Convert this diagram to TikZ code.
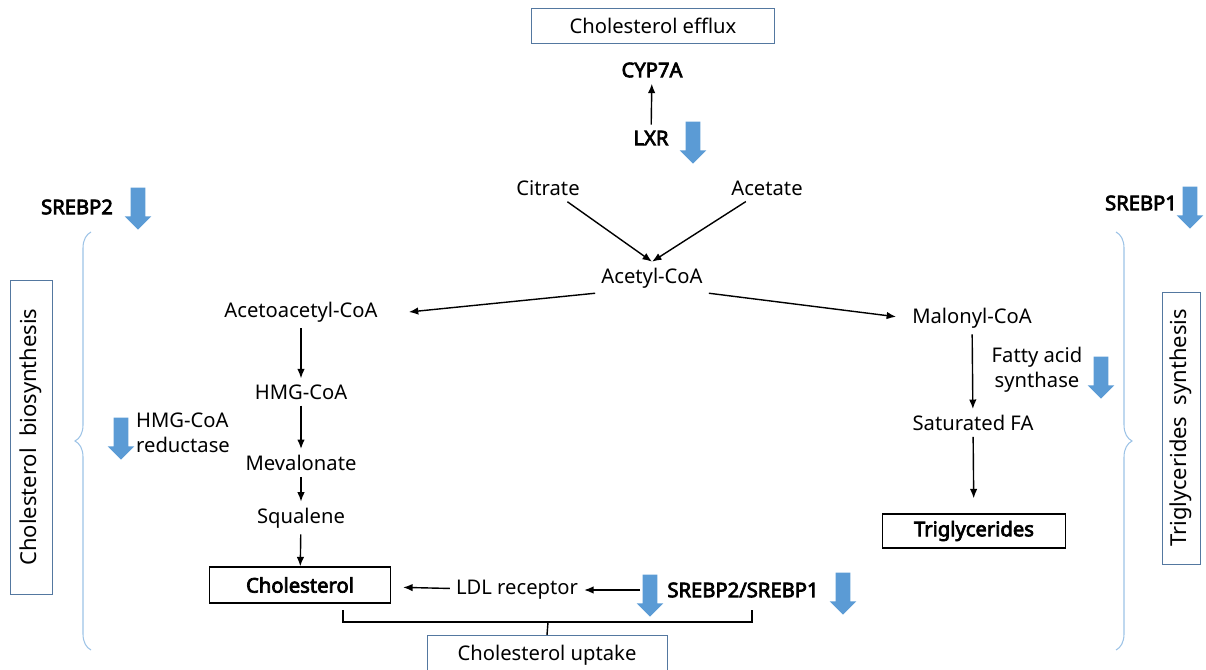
\documentclass[tikz,border=0pt]{standalone}
\usepackage{fontspec}
\setmainfont{Noto Sans}[AutoFakeBold=3.5]
\usetikzlibrary{shapes,arrows,positioning,calc,arrows.meta,decorations.pathreplacing}
\definecolor{downblue}{RGB}{91,155,213}
\definecolor{bracecol}{RGB}{157,195,230}
\definecolor{framecol}{RGB}{84,120,160}

\begin{document}
\begin{tikzpicture}[x=0.02cm,y=-0.02cm,
    font=\fontsize{11.5}{14}\selectfont,
    box/.style={rectangle,draw=framecol,thin,minimum width=4.86cm,minimum height=0.7cm},
    blackbox/.style={rectangle,draw,line width=0.7pt,minimum width=3.62cm,minimum height=0.72cm,font=\fontsize{11.5}{14}\selectfont\bfseries},
    sidebox/.style={rectangle,draw=framecol,thin,rotate=90,font=\fontsize{12.5}{15}\selectfont},
    gene/.style={font=\fontsize{11.5}{14}\selectfont\bfseries},
    arrow/.style={-{Latex[length=1.9mm,width=1.5mm]},line width=0.8pt},
    decrease/.style={single arrow,draw=none,fill=downblue,shape border rotate=270,inner sep=0.14cm,single arrow head extend=0.12cm,minimum height=0.84cm},
    brace/.style={decorate,decoration={brace,amplitude=0.32cm},draw=bracecol,line width=0.6pt}
    ]
    \useasboundingbox (0,0) rectangle (1206,669);

    % top: efflux
    \node[box] (efflux) at (653,26) {Cholesterol efflux};
    \node[gene] (cyp) at (652,70) {CYP7A};
    \node[gene] (lxr) at (651,138) {LXR};
    \node[decrease] (lxrdown) at (693,139) {};

    \node (citrate) at (548,188) {Citrate};
    \node (acetate) at (767,188) {Acetate};
    \node (acetyl) at (652,278) {Acetyl-CoA};

    % sides
    \node[gene] (srebp2) at (77,207) {SREBP2};
    \node[decrease] (srebp2down) at (138,205) {};
    \node[gene] (srebp1) at (1141,203) {SREBP1};
    \node[decrease] (srebp1down) at (1190,204) {};
    \node[sidebox,minimum width=6.28cm,minimum height=0.84cm] (cholsyn) at (31,437) {Cholesterol\ \ biosynthesis};
    \node[sidebox,minimum width=5.44cm,minimum height=0.76cm] (tgsyn) at (1181,428) {Triglycerides\ \ synthesis};

    % cholesterol branch
    \node (aceto) at (301,312) {Acetoacetyl-CoA};
    \node (hmg) at (301,392) {HMG-CoA};
    \node[align=left] (hmgr) at (183,433) {HMG-CoA\\reductase};
    \node[decrease] (hmgrdown) at (121,435) {};
    \node (meva) at (301,463) {Mevalonate};
    \node (squa) at (301,518) {Squalene};
    \node[blackbox] (chol) at (300,585) {Cholesterol};
    \node (ldl) at (517,590) {LDL receptor};
    \node[decrease] (ldldown) at (650,592) {};
    \node[gene] (srebp12) at (743,590) {SREBP2/SREBP1};
    \node[decrease] (srebp12down) at (843,590) {};
    \node[box,anchor=north,minimum width=4.8cm,minimum height=0.8cm] (uptake) at (547,635) {Cholesterol uptake};

    % triglyceride branch
    \node (malonyl) at (972,318) {Malonyl-CoA};
    \node[align=center] (fas) at (1037,370) {Fatty acid\\synthase};
    \node[decrease] (fasdown) at (1101,374) {};
    \node (satfa) at (973,423) {Saturated FA};
    \node[blackbox,minimum width=3.66cm,minimum height=0.68cm] (tg) at (974,531) {Triglycerides};

    \draw[arrow] (lxr) -- (cyp);
    \draw[arrow] (citrate) -- (acetyl.north);
    \draw[arrow] (acetate) -- (acetyl.north);
    \draw[arrow] (acetyl.195) -- ([xshift=0.5cm]aceto.east);
    \draw[arrow,shorten >=0.2cm] (acetyl.-15) -- (malonyl.west);
    \draw[arrow] (aceto) -- (hmg);
    \draw[arrow] (hmg) -- (meva);
    \draw[arrow] (meva) -- (squa);
    \draw[arrow] (squa) -- (chol);
    \draw[arrow,shorten >=0.24cm] (ldl) -- (chol);
    \draw[arrow,shorten <=0.42cm] (srebp12.west) -- (ldl.east);
    \draw[arrow] (malonyl) -- (satfa);
    \draw[arrow,shorten >=0.3cm] (satfa) -- (tg);

    % uptake bracket
    \coordinate (bl) at (343,610);
    \coordinate (br) at (752,610);
    \coordinate (bm) at (548,622);
    \draw[line width=0.8pt] (bl) |- (bm) -| (br);
    \draw[line width=0.8pt] (bm) -- (uptake.north);

    % braces
    \draw[brace] (91,650) -- (91,232);
    \draw[brace] (1116,232) -- (1116,650);

\end{tikzpicture}
\end{document}
